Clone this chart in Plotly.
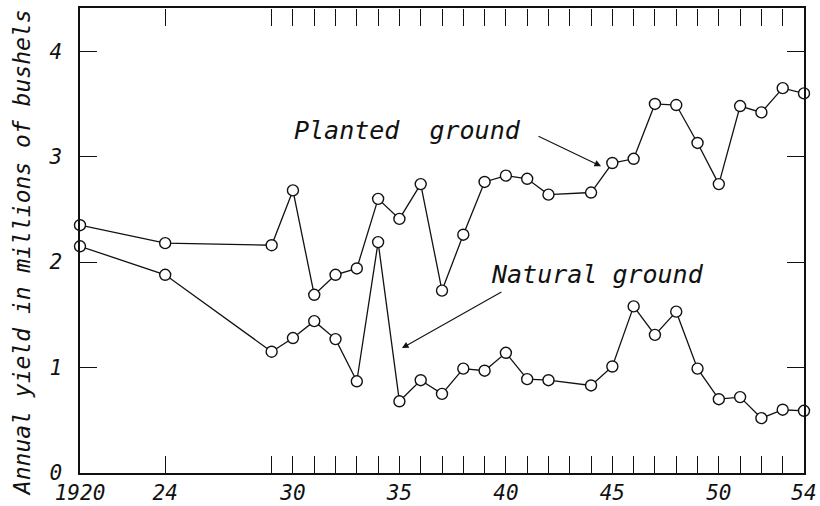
import plotly.graph_objects as go

years = [1920, 1924, 1929, 1930, 1931, 1932, 1933, 1934, 1935, 1936, 1937, 1938, 1939,
         1940, 1941, 1942, 1944, 1945, 1946, 1947, 1948, 1949, 1950, 1951, 1952, 1953, 1954]
planted = [2.35, 2.18, 2.16, 2.68, 1.69, 1.88, 1.94, 2.60, 2.41, 2.74, 1.73, 2.26, 2.76,
           2.82, 2.79, 2.64, 2.66, 2.94, 2.98, 3.50, 3.49, 3.13, 2.74, 3.48, 3.42, 3.65, 3.60]
natural = [2.15, 1.88, 1.15, 1.28, 1.44, 1.27, 0.87, 2.19, 0.68, 0.88, 0.75, 0.99, 0.97,
           1.14, 0.89, 0.88, 0.83, 1.01, 1.58, 1.31, 1.53, 0.99, 0.70, 0.72, 0.52, 0.60, 0.59]

x_tick_vals = [1920, 1924] + list(range(1929, 1955))
x_label_map = {1920: "1920", 1924: "24", 1930: "30", 1935: "35", 1940: "40",
               1945: "45", 1950: "50", 1954: "54"}
x_tick_text = [x_label_map.get(v, "") for v in x_tick_vals]
y_tick_vals = [0, 1, 2, 3, 4]
y_tick_text = ["0", "1", "2", "3", "4"]

FONT = "DejaVu Sans Mono"
BLACK = "#111111"

marker = dict(symbol="circle", size=11, color="white", line=dict(color=BLACK, width=1.4))

fig = go.Figure()
# transparent copy on the top axis so that the top tick marks are drawn
fig.add_trace(go.Scatter(x=years, y=planted, xaxis="x2", yaxis="y", mode="markers",
                         marker=dict(opacity=0), hoverinfo="skip", showlegend=False))
for name, vals in [("Planted ground", planted), ("Natural ground", natural)]:
    fig.add_trace(go.Scatter(x=years, y=vals, mode="lines+markers", name=name,
                             line=dict(color=BLACK, width=1.3), marker=marker,
                             showlegend=False, cliponaxis=False))

tick_common = dict(ticks="inside", ticklen=17, tickwidth=1.2, tickcolor=BLACK,
                   showgrid=False, zeroline=False, automargin=False)

fig.update_layout(
    width=820, height=506,
    margin=dict(l=80, r=16, t=8, b=33, autoexpand=False),
    paper_bgcolor="white", plot_bgcolor="white",
    font=dict(family=FONT, color=BLACK),
    xaxis=dict(range=[1920, 1954], tickmode="array", tickvals=x_tick_vals,
               ticktext=x_tick_text, showline=True, linecolor=BLACK, linewidth=1.5,
               mirror=True,
               tickfont=dict(family=FONT, size=21, style="italic", color=BLACK),
               **tick_common),
    xaxis2=dict(range=[1920, 1954], overlaying="x", side="top", anchor="free",
                position=1.0, tickmode="array", tickvals=x_tick_vals,
                showticklabels=False, showline=False, **tick_common),
    yaxis=dict(range=[0, 4.41], tickmode="array", tickvals=y_tick_vals,
               ticktext=y_tick_text, showline=True, linecolor=BLACK, linewidth=1.5,
               mirror="ticks", ticklabelstandoff=12,
               tickfont=dict(family=FONT, size=21, style="italic", color=BLACK),
               **tick_common),
)

fig.add_annotation(x=-0.080, y=0.473, xref="paper", yref="paper",
                   xanchor="center", yanchor="middle",
                   text="Annual yield in millions of bushels", textangle=-90,
                   showarrow=False, font=dict(family=FONT, size=23, style="italic", color=BLACK))
fig.add_annotation(x=1935.4, y=3.25, text="Planted  ground", showarrow=False,
                   font=dict(family=FONT, size=25, style="italic", color=BLACK))
fig.add_annotation(x=1944.3, y=1.88, text="Natural ground", showarrow=False,
                   font=dict(family=FONT, size=25, style="italic", color=BLACK))
fig.add_annotation(x=1944.47, y=2.91, ax=1941.46, ay=3.20, axref="x", ayref="y",
                   text="", showarrow=True, arrowhead=2, arrowsize=1.2, arrowwidth=1.1,
                   arrowcolor=BLACK)
fig.add_annotation(x=1935.12, y=1.185, ax=1939.86, ay=1.725, axref="x", ayref="y",
                   text="", showarrow=True, arrowhead=2, arrowsize=1.2, arrowwidth=1.1,
                   arrowcolor=BLACK)

fig.write_html("out.html", config={"displayModeBar": False},
               post_script="document.body.style.margin='0';document.body.style.overflow='hidden';")
